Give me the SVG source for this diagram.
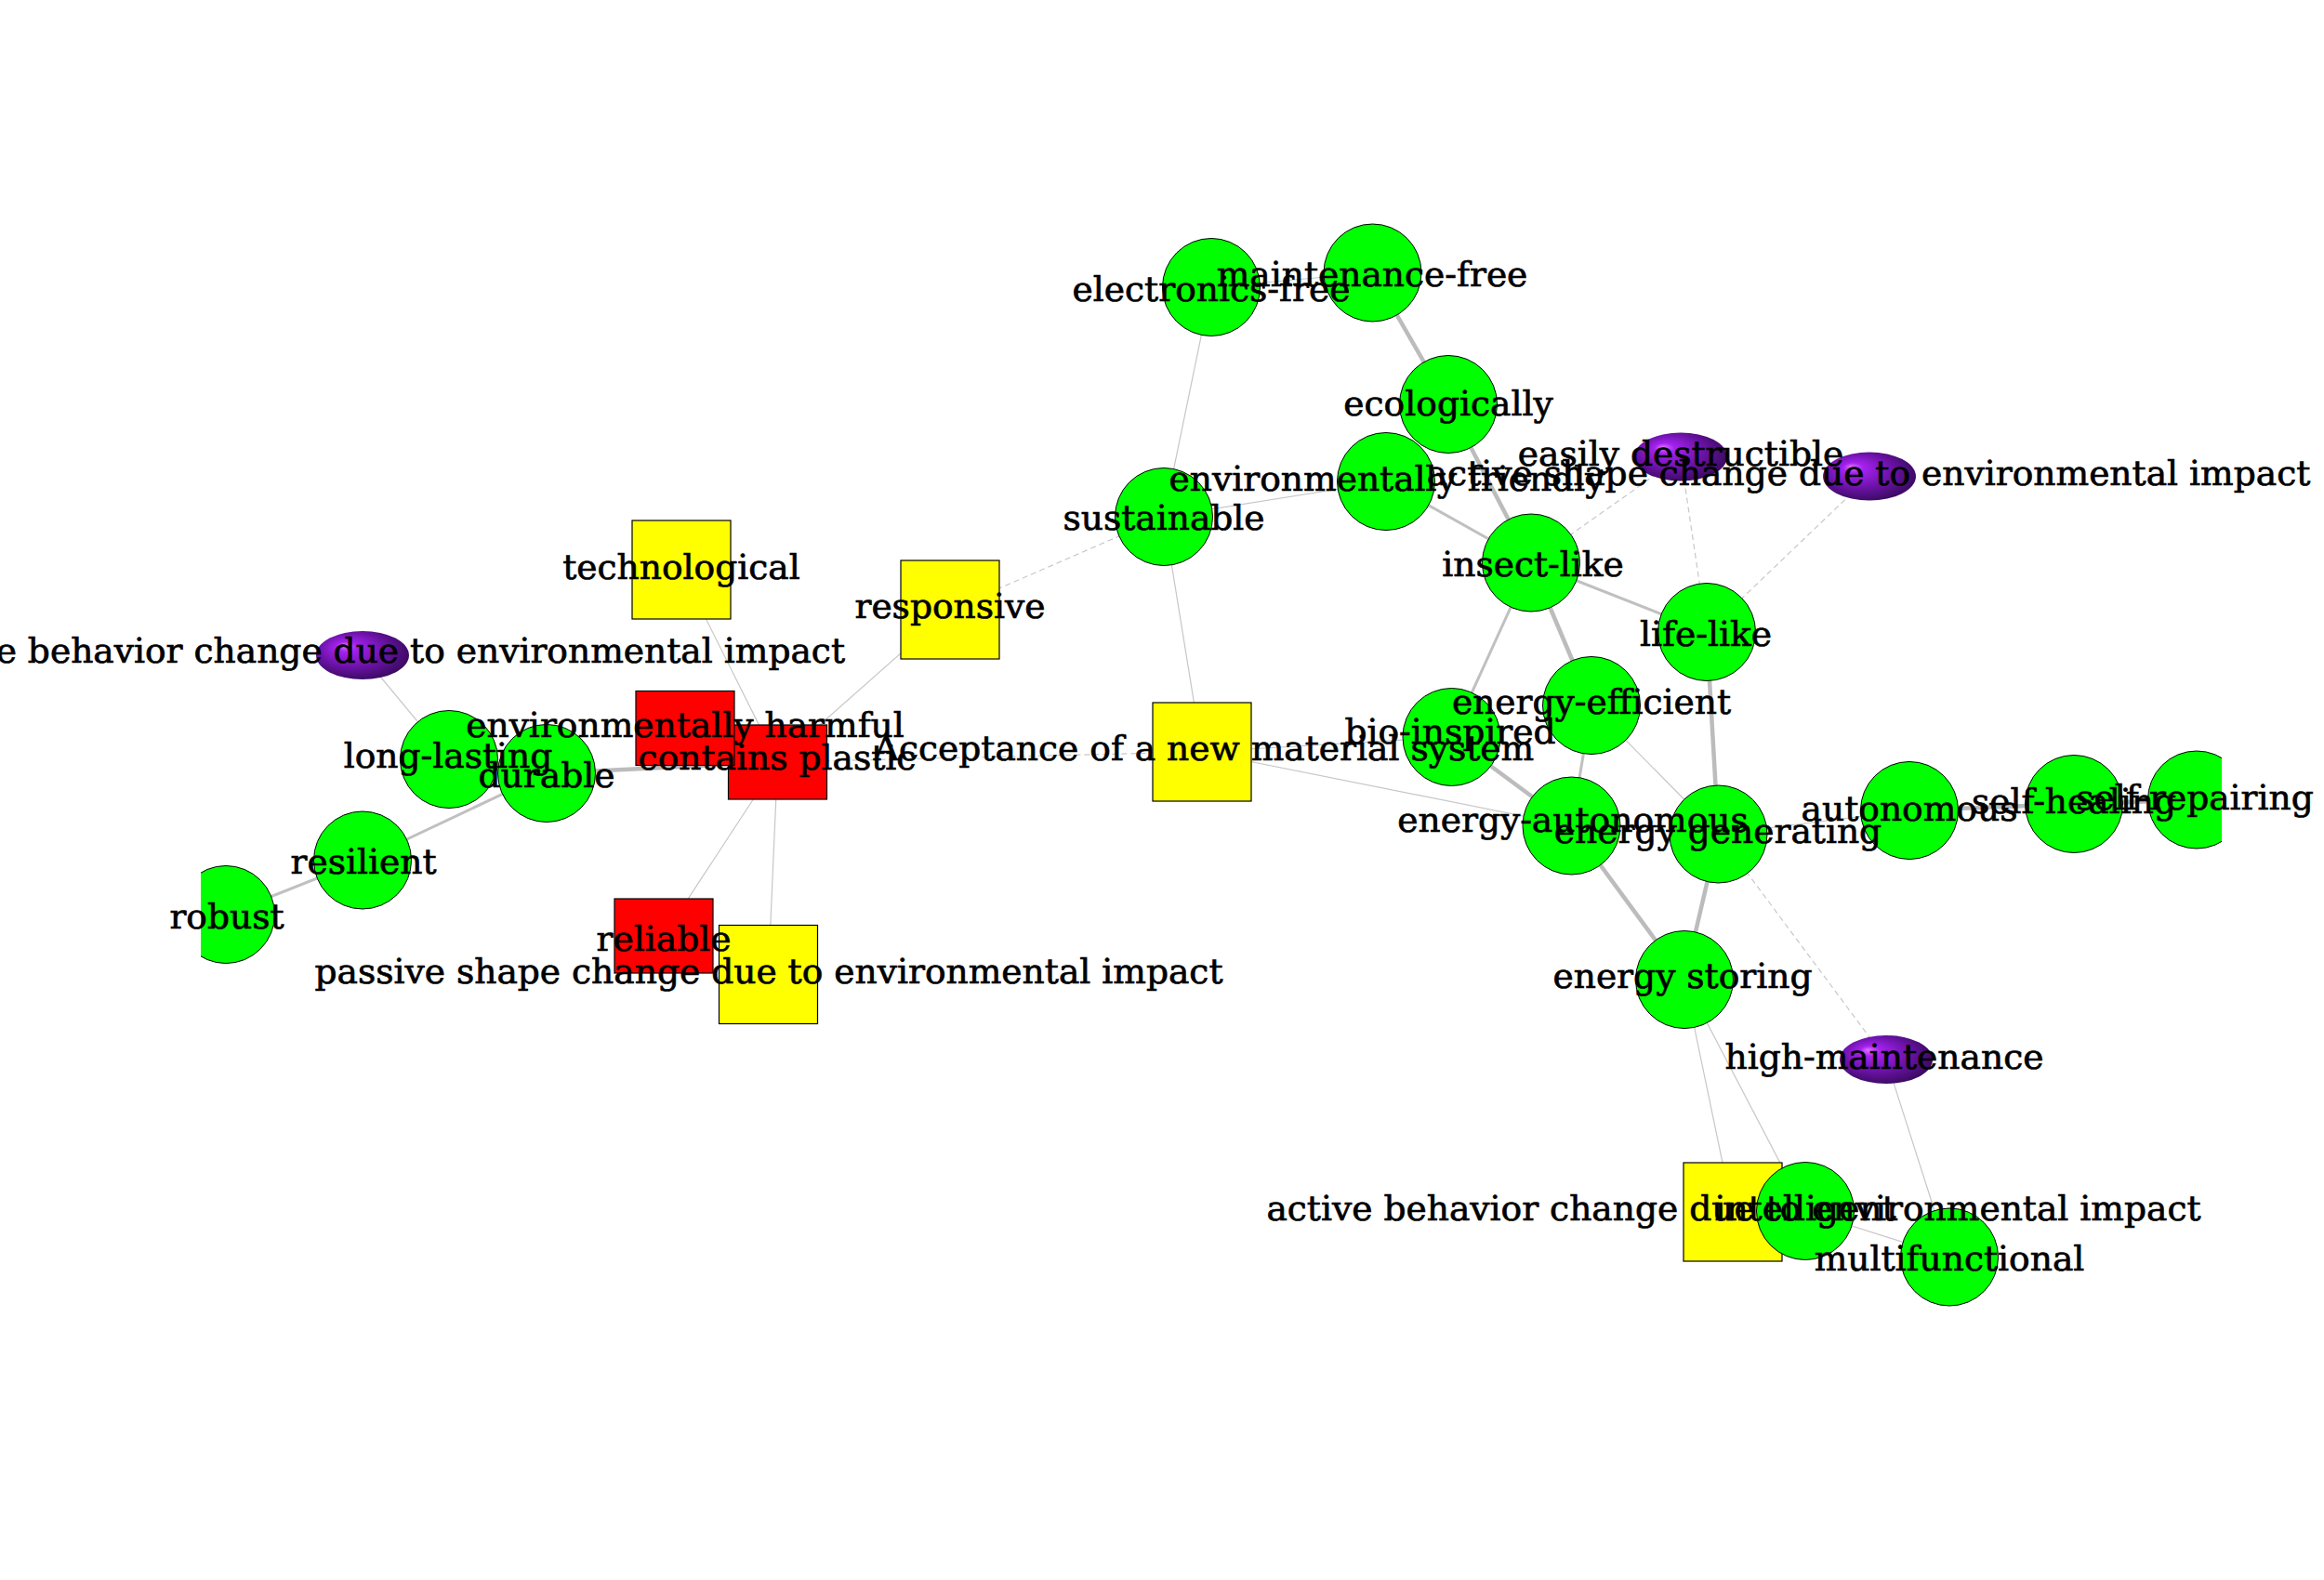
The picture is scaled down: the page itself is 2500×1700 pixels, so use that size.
<svg xmlns="http://www.w3.org/2000/svg" width="2500" height="1700" viewBox="0 0 2500 1700">
<style>
.e1{stroke:#c6c6c6;stroke-width:1.2;fill:none}
.e3{stroke:#c0c0c0;stroke-width:3;fill:none}
.e4{stroke:#bcbcbc;stroke-width:4.5;fill:none}
.ed{stroke:#c8c8c8;stroke-width:1.2;stroke-dasharray:6 4;fill:none}
.g{fill:#00ff00;stroke:#000;stroke-width:1}
.y{fill:#ffff00;stroke:#000;stroke-width:1.2}
.r{fill:#ff0000;stroke:#000;stroke-width:1.2}
.p{fill:url(#sphere);stroke:none}
text{font-family:"DejaVu Serif","Liberation Serif",serif;font-size:37.6px;fill:#000;stroke:#000;stroke-width:0.7;text-anchor:middle}
</style>
<defs>
<radialGradient id="sphere" cx="0.45" cy="0.45" r="0.6" fx="0.3" fy="0.3">
<stop offset="0" stop-color="#e070ff"/>
<stop offset="0.18" stop-color="#a421ee"/>
<stop offset="0.6" stop-color="#6a12a6"/>
<stop offset="1" stop-color="#350a58"/>
</radialGradient>
<clipPath id="clipL"><rect x="216" y="0" width="2174" height="1700"/></clipPath>
</defs>
<rect width="2500" height="1700" fill="#fff"/>
<g id="edges">
<line class="e1" x1="1303" y1="309" x2="1476.5" y2="293.5"/>
<line class="e1" x1="1303" y1="309" x2="1252" y2="556"/>
<line class="e4" x1="1476.5" y1="293.5" x2="1558" y2="435"/>
<line class="e4" x1="1558" y1="435" x2="1647" y2="605.5"/>
<line class="e1" x1="1491" y1="518" x2="1252" y2="556"/>
<line class="e3" x1="1491" y1="518" x2="1647" y2="605.5"/>
<line class="ed" x1="1252" y1="556" x2="1022" y2="656"/>
<line class="e1" x1="1252" y1="556" x2="1293" y2="809"/>
<line class="e3" x1="1647" y1="605.5" x2="1836" y2="680"/>
<line class="e3" x1="1647" y1="605.5" x2="1561.5" y2="793"/>
<line class="e4" x1="1647" y1="605.5" x2="1712" y2="759"/>
<line class="ed" x1="1647" y1="605.5" x2="1808" y2="491.5"/>
<line class="ed" x1="1836" y1="680" x2="1808" y2="491.5"/>
<line class="ed" x1="1836" y1="680" x2="2011" y2="512.5"/>
<line class="e4" x1="1836" y1="680" x2="1848.5" y2="897.5"/>
<line class="e3" x1="1712" y1="759" x2="1690.5" y2="888.5"/>
<line class="e1" x1="1712" y1="759" x2="1848.5" y2="897.5"/>
<line class="e4" x1="1561.5" y1="793" x2="1690.5" y2="888.5"/>
<line class="e1" x1="1293" y1="809" x2="1690.5" y2="888.5"/>
<line class="e1" x1="1293" y1="809" x2="1561.5" y2="793"/>
<line class="e4" x1="1690.5" y1="888.5" x2="1812" y2="1054"/>
<line class="e4" x1="1848.5" y1="897.5" x2="1812" y2="1054"/>
<line class="e1" x1="1848.5" y1="897.5" x2="2054" y2="872"/>
<line class="ed" x1="1848.5" y1="897.5" x2="2029" y2="1140"/>
<line class="e4" x1="2054" y1="872" x2="2231" y2="865"/>
<line class="e4" x1="2231" y1="865" x2="2363" y2="860.5"/>
<line class="e1" x1="1812" y1="1054" x2="1864" y2="1304"/>
<line class="e1" x1="1812" y1="1054" x2="1942" y2="1303"/>
<line class="e1" x1="1942" y1="1303" x2="2097" y2="1352.5"/>
<line class="e1" x1="2029" y1="1140" x2="2097" y2="1352.5"/>
<line class="e1" x1="733" y1="613" x2="836.5" y2="820"/>
<line class="e1" x1="836.5" y1="820" x2="1022" y2="656"/>
<line class="e4" x1="588" y1="832" x2="836.5" y2="820"/>
<line class="e1" x1="836.5" y1="820" x2="714" y2="1007"/>
<line class="e1" x1="836.5" y1="820" x2="826.5" y2="1048.5"/>
<line class="ed" x1="836.5" y1="820" x2="1293" y2="809"/>
<line class="e3" x1="588" y1="832" x2="390" y2="925.5"/>
<line class="e3" x1="390" y1="925.5" x2="243" y2="984"/>
<line class="e1" x1="483" y1="817" x2="390" y2="705"/>
</g>
<g id="n-passive-behavior"><ellipse class="p" cx="390" cy="705" rx="50" ry="26"/></g>
<g id="n-easily-destructible"><ellipse class="p" cx="1808" cy="491.5" rx="50" ry="26"/></g>
<g id="n-active-shape"><ellipse class="p" cx="2011" cy="512.5" rx="50" ry="26"/></g>
<g id="n-high-maintenance"><ellipse class="p" cx="2029" cy="1140" rx="50" ry="26"/></g>
<g id="n-technological"><rect class="y" x="680" y="560" width="106" height="106"/></g>
<g id="n-responsive"><rect class="y" x="969" y="603" width="106" height="106"/></g>
<g id="n-acceptance"><rect class="y" x="1240" y="756" width="106" height="106"/></g>
<g id="n-passive-shape"><rect class="y" x="773.5" y="995.5" width="106" height="106"/></g>
<g id="n-active-behavior"><rect class="y" x="1811" y="1251" width="106" height="106"/></g>
<g id="n-contains-plastic"><rect class="r" x="783.5" y="780" width="106" height="80"/></g>
<g id="n-env-harmful"><rect class="r" x="684" y="743.5" width="106" height="80"/></g>
<g id="n-reliable"><rect class="r" x="661" y="967" width="106" height="80"/></g>
<g id="n-electronics-free"><circle class="g" cx="1303" cy="309" r="52.5"/></g>
<g id="n-maintenance-free"><circle class="g" cx="1476.5" cy="293.5" r="52.5"/></g>
<g id="n-env-friendly"><circle class="g" cx="1491" cy="518" r="52.5"/></g>
<g id="n-ecologically"><circle class="g" cx="1558" cy="435" r="52.5"/></g>
<g id="n-sustainable"><circle class="g" cx="1252" cy="556" r="52.5"/></g>
<g id="n-insect-like"><circle class="g" cx="1647" cy="605.5" r="52.5"/></g>
<g id="n-life-like"><circle class="g" cx="1836" cy="680" r="52.5"/></g>
<g id="n-energy-efficient"><circle class="g" cx="1712" cy="759" r="52.5"/></g>
<g id="n-bio-inspired"><circle class="g" cx="1561.5" cy="793" r="52.5"/></g>
<g id="n-energy-autonomous"><circle class="g" cx="1690.5" cy="888.5" r="52.5"/></g>
<g id="n-energy-generating"><circle class="g" cx="1848.5" cy="897.5" r="52.5"/></g>
<g id="n-energy-storing"><circle class="g" cx="1812" cy="1054" r="52.5"/></g>
<g id="n-autonomous"><circle class="g" cx="2054" cy="872" r="52.5"/></g>
<g id="n-self-healing"><circle class="g" cx="2231" cy="865" r="52.5"/></g>
<g id="n-self-repairing"><circle class="g" cx="2363" cy="860.5" r="52.5" clip-path="url(#clipL)"/></g>
<g id="n-long-lasting"><circle class="g" cx="483" cy="817" r="52.5"/></g>
<g id="n-durable"><circle class="g" cx="588" cy="832" r="52.5"/></g>
<g id="n-resilient"><circle class="g" cx="390" cy="925.5" r="52.5"/></g>
<g id="n-robust"><circle class="g" cx="243" cy="984" r="52.5" clip-path="url(#clipL)"/></g>
<g id="n-intelligent"><circle class="g" cx="1942" cy="1303" r="52.5"/></g>
<g id="n-multifunctional"><circle class="g" cx="2097" cy="1352.5" r="52.5"/></g>
<g id="labels">
<text x="909" y="713" style="text-anchor:end">e behavior change due to environmental impact</text>
<text x="1808" y="501">easily destructible</text>
<text x="2010" y="522">active shape change due to environmental impact</text>
<text x="2027" y="1150">high-maintenance</text>
<text x="733" y="623">technological</text>
<text x="1022" y="665">responsive</text>
<text x="1295" y="818">Acceptance of a new material system</text>
<text x="827" y="1058">passive shape change due to environmental impact</text>
<text x="1865" y="1313">active behavior change due to environmental impact</text>
<text x="737" y="793">environmentally harmful</text>
<text x="836" y="828">contains plastic</text>
<text x="714" y="1023">reliable</text>
<text x="1303" y="324">electronics-free</text>
<text x="1476" y="308">maintenance-free</text>
<text x="1558" y="447">ecologically</text>
<text x="1492" y="528">environmentally friendly</text>
<text x="1252" y="570">sustainable</text>
<text x="1649" y="620">insect-like</text>
<text x="1835" y="695">life-like</text>
<text x="1712" y="768">energy-efficient</text>
<text x="1560" y="800">bio-inspired</text>
<text x="1692" y="895">energy-autonomous</text>
<text x="1848" y="907">energy generating</text>
<text x="1810" y="1063">energy storing</text>
<text x="2054" y="883">autonomous</text>
<text x="2231" y="875">self-healing</text>
<text x="2361" y="871">self-repairing</text>
<text x="482" y="826">long-lasting</text>
<text x="588" y="847">durable</text>
<text x="391" y="940">resilient</text>
<text x="244" y="999">robust</text>
<text x="1942" y="1313">intelligent</text>
<text x="2097" y="1367">multifunctional</text>
</g>
</svg>
